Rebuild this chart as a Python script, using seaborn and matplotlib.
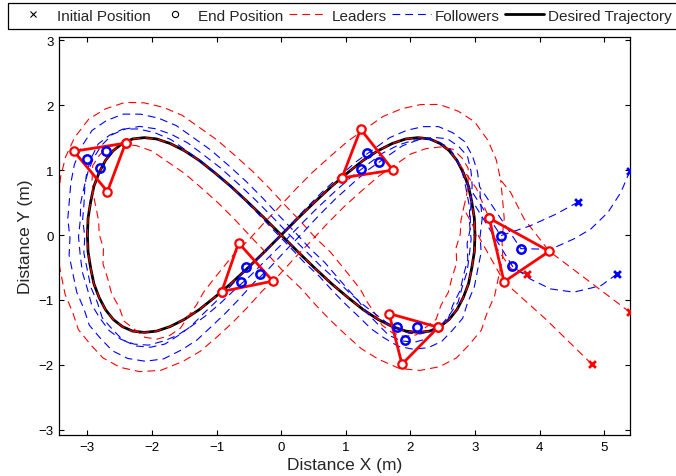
import numpy as np
import matplotlib
matplotlib.use("Agg")
import matplotlib.pyplot as plt
import seaborn as sns
from matplotlib.lines import Line2D

# Desired figure-eight trajectory, listed in the direction of travel
traj_x = [3.00, 2.99, 2.95, 2.90, 2.82, 2.72, 2.60, 2.46, 2.30, 2.12, 1.93, 1.72, 1.50, 1.27, 1.03, 0.78, 0.52, 0.26, 0.00,
          -0.26, -0.52, -0.78, -1.03, -1.27, -1.50, -1.72, -1.93, -2.12, -2.30, -2.46, -2.60, -2.72, -2.82, -2.90, -2.95, -2.99, -3.00,
          -2.99, -2.95, -2.90, -2.82, -2.72, -2.60, -2.46, -2.30, -2.12, -1.93, -1.72, -1.50, -1.27, -1.03, -0.78, -0.52, -0.26, 0.00,
          0.26, 0.52, 0.78, 1.03, 1.27, 1.50, 1.72, 1.93, 2.12, 2.30, 2.46, 2.60, 2.72, 2.82, 2.90, 2.95, 2.99, 3.00]
traj_y = [0.00, 0.26, 0.51, 0.75, 0.96, 1.15, 1.30, 1.41, 1.48, 1.50, 1.48, 1.41, 1.30, 1.15, 0.96, 0.75, 0.51, 0.26, 0.00,
          -0.26, -0.51, -0.75, -0.96, -1.15, -1.30, -1.41, -1.48, -1.50, -1.48, -1.41, -1.30, -1.15, -0.96, -0.75, -0.51, -0.26, 0.00,
          0.26, 0.51, 0.75, 0.96, 1.15, 1.30, 1.41, 1.48, 1.50, 1.48, 1.41, 1.30, 1.15, 0.96, 0.75, 0.51, 0.26, 0.00,
          -0.26, -0.51, -0.75, -0.96, -1.15, -1.30, -1.41, -1.48, -1.50, -1.48, -1.41, -1.30, -1.15, -0.96, -0.75, -0.51, -0.26, 0.00]

# Formation offsets in the path frame: (behind the lead, to the left of travel)
leader_along = [0.00, -0.66, -0.64]
leader_side = [0.00, -0.34, 0.38]
follower_along = [-0.54, -0.61, -0.31]
follower_side = [-0.02, 0.20, 0.10]

# Approach legs from the initial positions towards the trajectory
leader_approach_x = [[3.80, 3.56, 3.30, 3.22, 3.02],
                     [5.40, 4.75, 4.15, 3.76, 3.55],
                     [4.81, 4.10, 3.45, 3.10]]
leader_approach_y = [[-0.60, -0.52, -0.15, 0.26, 0.72],
                     [-1.19, -0.70, -0.25, 0.25, 0.66],
                     [-1.99, -1.30, -0.72, -0.10]]
follower_approach_x = [[5.40, 5.26, 5.06, 4.79, 4.53, 4.17, 3.71],
                       [5.20, 4.95, 4.53, 4.17, 3.86, 3.58],
                       [4.60, 4.25, 3.85, 3.40]]
follower_approach_y = [[0.99, 0.66, 0.35, 0.09, -0.06, -0.22, -0.21],
                       [-0.60, -0.78, -0.88, -0.83, -0.68, -0.48],
                       [0.51, 0.32, 0.14, -0.01]]

# Formation snapshots (leader triangle vertices and follower positions)
snap_leader_x = [[-2.41, -3.21, -2.69], [-0.92, -0.66, -0.13], [0.94, 1.23, 1.73], [2.43, 1.67, 1.87], [3.22, 4.15, 3.45]]
snap_leader_y = [[1.415, 1.29, 0.67], [-0.87, -0.12, -0.71], [0.88, 1.63, 1.00], [-1.42, -1.21, -1.99], [0.26, -0.25, -0.72]]
snap_follower_x = [[-3.00, -2.72, -2.80], [-0.54, -0.335, -0.63], [1.33, 1.52, 1.24], [1.80, 2.11, 1.92], [3.40, 3.71, 3.58]]
snap_follower_y = [[1.17, 1.29, 1.04], [-0.49, -0.60, -0.73], [1.26, 1.13, 1.01], [-1.41, -1.42, -1.62], [-0.01, -0.21, -0.48]]

JOIN = 5  # trajectory sample where the formation settles onto the path

sns.set_style("ticks", {"xtick.direction": "in", "ytick.direction": "in",
                        "xtick.top": True, "ytick.right": True,
                        "axes.edgecolor": "black"})
plt.rcParams["font.family"] = ["Liberation Sans", "DejaVu Sans"]
plt.rcParams["axes.linewidth"] = 0.9

fig = plt.figure(figsize=(6.76, 4.77), dpi=100)
ax = fig.add_axes([59 / 676, 1 - 436 / 477, (630 - 59) / 676, (436 - 38) / 477])

# Path frame along the trajectory (heading looks slightly ahead)
P = np.column_stack([traj_x[:-1], traj_y[:-1]])
n = len(P)
order = (JOIN + np.arange(n + 1)) % n
head = P[(order + 1) % n] - P[order]
head /= np.linalg.norm(head, axis=1, keepdims=True)
left = np.column_stack([-head[:, 1], head[:, 0]])


def agent_path(ax_pts, ay_pts, along, side):
    pts = P[order] + along * head + side * left
    return (np.concatenate([ax_pts, pts[:, 0]]), np.concatenate([ay_pts, pts[:, 1]]))


dash = (0, (7, 4.5))

sns.lineplot(x=traj_x, y=traj_y, sort=False, estimator=None, color="black", lw=2.0, ax=ax)

for i in range(3):
    px, py = agent_path(leader_approach_x[i], leader_approach_y[i], leader_along[i], leader_side[i])
    sns.lineplot(x=px, y=py, sort=False, estimator=None, color="red", lw=0.8, linestyle=dash, ax=ax)
for i in range(3):
    px, py = agent_path(follower_approach_x[i], follower_approach_y[i], follower_along[i], follower_side[i])
    sns.lineplot(x=px, y=py, sort=False, estimator=None, color="blue", lw=0.8, linestyle=dash, ax=ax)

for k in range(len(snap_leader_x)):
    tx = snap_leader_x[k] + snap_leader_x[k][:1]
    ty = snap_leader_y[k] + snap_leader_y[k][:1]
    sns.lineplot(x=tx, y=ty, sort=False, estimator=None, color="red", lw=2.0,
                 marker="o", markersize=6, markerfacecolor="white",
                 markeredgecolor="red", markeredgewidth=1.6, ax=ax)
    sns.lineplot(x=snap_follower_x[k], y=snap_follower_y[k], sort=False, estimator=None,
                 linestyle="none", marker="o", markersize=6, markerfacecolor="none",
                 markeredgecolor="blue", markeredgewidth=1.8, ax=ax)

sns.scatterplot(x=[a[0] for a in leader_approach_x], y=[a[0] for a in leader_approach_y],
                marker="x", s=24, color="red", linewidth=2.0, ax=ax, zorder=5)
sns.scatterplot(x=[a[0] for a in follower_approach_x], y=[a[0] for a in follower_approach_y],
                marker="x", s=24, color="blue", linewidth=2.0, ax=ax, zorder=5)

ax.set_xlim(-3.44, 5.40)
ax.set_ylim(-3.08, 3.05)
ax.set_xticks(range(-3, 6))
ax.set_yticks(range(-3, 4))
ax.tick_params(direction="in", length=3.5, width=0.8, labelsize=9.5, pad=4,
               top=True, right=True, colors="black")
ax.set_xlabel("Distance X (m)", fontsize=12.5, labelpad=3)
ax.set_ylabel("Distance Y (m)", fontsize=12.5, labelpad=4)
for s in ax.spines.values():
    s.set_visible(True)
    s.set_color("black")

handles = [
    Line2D([], [], ls="none", marker="x", color="black", ms=4, mew=0.8),
    Line2D([], [], ls="none", marker="o", mfc="none", mec="black", ms=4.5, mew=0.8),
    Line2D([], [], color="red", lw=0.8, ls=dash),
    Line2D([], [], color="blue", lw=0.8, ls=dash),
    Line2D([], [], color="black", lw=2.0),
]
labels = ["Initial Position", "End Position", "Leaders", "Followers", "Desired Trajectory"]
leg = fig.legend(handles, labels, loc="upper left", bbox_to_anchor=(8 / 676, 1 - 4 / 477),
                 ncol=5, frameon=True, fancybox=False, edgecolor="black", framealpha=1,
                 fontsize=11, handlelength=2.5, handletextpad=0.3, columnspacing=0.35,
                 borderpad=0.38, borderaxespad=0)
leg.get_frame().set_linewidth(0.9)

fig.savefig("out.png", dpi=100)
